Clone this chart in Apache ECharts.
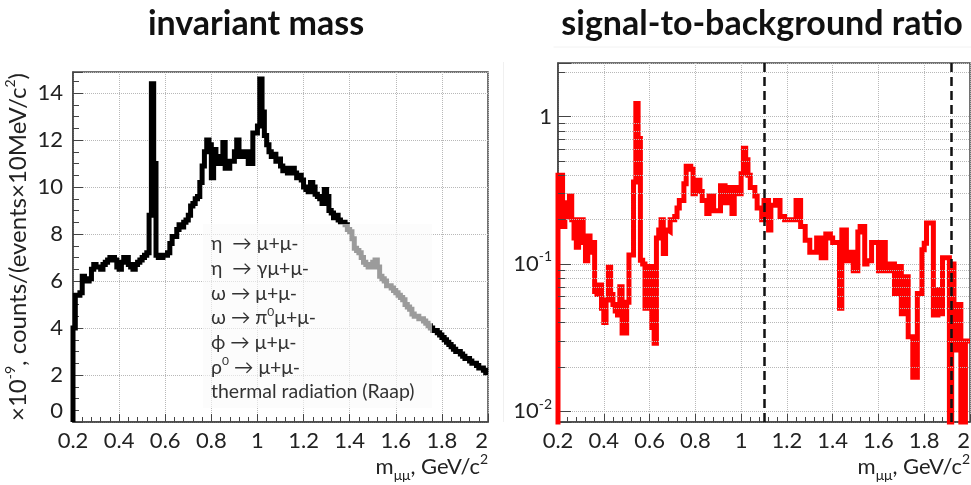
<!DOCTYPE html>
<html>
<head>
<meta charset="utf-8">
<script src="https://cdn.jsdelivr.net/npm/echarts@6/dist/echarts.min.js"></script>
<style>
  html, body { margin: 0; padding: 0; background: #fff; }
  #chart { width: 971px; height: 485px; }
</style>
</head>
<body>
<div id="chart"></div>
<script>
// Dimuon invariant-mass spectrum and signal-to-background ratio, 10 MeV bins from 0.2 GeV.
const binStart = 0.2;
const binWidth = 0.01;

// counts/(events x 10 MeV/c^2), in units of 1e-9, one value per bin
const massCounts = [
  4.0, 5.4, 5.4, 5.5, 6.2, 6.0, 6.0, 6.1, 6.5, 6.7,
  6.6, 6.6, 6.5, 6.7, 6.8, 6.9, 7.0, 7.0, 6.9, 6.6,
  6.5, 6.8, 7.0, 7.0, 6.7, 6.6, 6.5, 6.7, 6.8, 6.9,
  7.0, 7.1, 7.2, 8.8, 14.4, 11.0, 7.1, 7.0, 7.0, 7.1,
  7.1, 7.2, 7.6, 7.9, 7.9, 8.2, 8.4, 8.3, 8.5, 8.6,
  8.8, 9.2, 9.3, 9.5, 9.6, 10.2, 10.9, 11.5, 12.0, 11.8,
  10.4, 11.6, 11.0, 11.0, 11.3, 11.9, 10.8, 10.8, 11.1, 11.1,
  11.5, 12.0, 11.3, 11.3, 11.5, 11.5, 11.0, 11.0, 12.3, 12.3,
  12.6, 14.6, 13.2, 12.2, 11.8, 11.5, 11.3, 11.4, 11.1, 11.2,
  10.9, 10.7, 10.8, 10.6, 10.7, 10.8, 10.6, 10.4, 10.5, 10.3,
  10.0, 9.9, 9.8, 10.2, 10.0, 9.7, 9.6, 9.5, 9.3, 9.9,
  9.6, 9.0, 8.9, 8.7, 8.8, 8.6, 8.5, 8.5, 8.4, 8.2,
  8.1, 7.8, 7.4, 7.3, 7.2, 7.0, 6.8, 6.7, 6.6, 6.6,
  6.8, 6.9, 6.6, 6.2, 6.1, 6.0, 5.8, 5.8, 5.7, 5.6,
  5.5, 5.4, 5.3, 5.2, 5.0, 4.9, 4.8, 4.6, 4.5, 4.5,
  4.4, 4.4, 4.3, 4.2, 4.1, 4.0, 3.9, 3.9, 3.8, 3.7,
  3.6, 3.5, 3.4, 3.3, 3.2, 3.1, 3.0, 3.0, 2.9, 2.8,
  2.7, 2.7, 2.6, 2.5, 2.5, 2.4, 2.3, 2.3, 2.2, 2.1
];

// signal / background, one value per bin
const sbRatio = [
  0.40, 0.40, 0.18, 0.26, 0.21, 0.29, 0.20, 0.15, 0.13, 0.20,
  0.20, 0.14, 0.105, 0.155, 0.12, 0.14, 0.065, 0.062, 0.072, 0.05,
  0.04, 0.057, 0.095, 0.062, 0.053, 0.048, 0.045, 0.07, 0.034, 0.034,
  0.055, 0.115, 0.115, 0.36, 1.23, 0.71, 0.106, 0.10, 0.05, 0.078,
  0.096, 0.037, 0.029, 0.15, 0.17, 0.20, 0.118, 0.17, 0.166, 0.20,
  0.20, 0.21, 0.24, 0.27, 0.27, 0.35, 0.46, 0.46, 0.44, 0.30,
  0.37, 0.37, 0.31, 0.27, 0.27, 0.22, 0.29, 0.29, 0.23, 0.23,
  0.23, 0.34, 0.34, 0.26, 0.26, 0.33, 0.22, 0.33, 0.30, 0.30,
  0.41, 0.61, 0.51, 0.40, 0.33, 0.33, 0.29, 0.24, 0.24, 0.20,
  0.27, 0.27, 0.17, 0.25, 0.25, 0.27, 0.27, 0.21, 0.21, 0.20,
  0.20, 0.20, 0.20, 0.20, 0.27, 0.27, 0.18, 0.18, 0.145, 0.145,
  0.12, 0.12, 0.12, 0.15, 0.15, 0.11, 0.11, 0.16, 0.16, 0.15,
  0.14, 0.14, 0.14, 0.05, 0.17, 0.17, 0.105, 0.12, 0.12, 0.09,
  0.09, 0.165, 0.18, 0.18, 0.10, 0.105, 0.105, 0.14, 0.14, 0.14,
  0.09, 0.14, 0.14, 0.09, 0.09, 0.10, 0.10, 0.063, 0.063, 0.096,
  0.046, 0.046, 0.082, 0.032, 0.032, 0.017, 0.017, 0.063, 0.063, 0.125,
  0.138, 0.19, 0.19, 0.19, 0.045, 0.045, 0.067, 0.046, 0.11, 0.11,
  0.11, 0.005, 0.10, 0.026, 0.053, 0.053, 0.005, 0.005, 0.03, 0.03
];

// mass-window cuts shown on the ratio panel (GeV/c^2)
const cutMasses = [1.1, 1.915];

// log-scale minor grid values between the decades
const logMinorValues = [
  0.02, 0.03, 0.04, 0.05, 0.06, 0.07, 0.08, 0.09,
  0.2, 0.3, 0.4, 0.5, 0.6, 0.7, 0.8, 0.9, 2
];

// contributions listed in the legend box
const channelLabels = [
  'η  → μ+μ-',
  'η  → γμ+μ-',
  'ω → μ+μ-',
  'ω → π{sup|0}μ+μ-',
  'ϕ → μ+μ-',
  'ρ{sup|0} → μ+μ-',
  'thermal radiation (Raap)'
];

const FONT = 'Lato, "Open Sans", "DejaVu Sans", sans-serif';
const AXIS = '#444';
const GRID = '#b8b8b8';

function histPoints(values, floor) {
  const pts = [[binStart, floor]];
  values.forEach((v, i) => pts.push([+(binStart + i * binWidth).toFixed(3), v]));
  pts.push([+(binStart + values.length * binWidth).toFixed(3), values[values.length - 1]]);
  return pts;
}

const supRich = {
  sup: { fontSize: 14, verticalAlign: 'top', fontFamily: FONT, color: '#222', lineHeight: 14 },
  sub: { fontSize: 14, verticalAlign: 'bottom', fontFamily: FONT, color: '#222', lineHeight: 14 }
};

function massAxis(gridIndex) {
  return {
    gridIndex: gridIndex,
    type: 'value',
    min: 0.2,
    max: 2.0,
    interval: 0.2,
    axisLine: { show: true, onZero: false, lineStyle: { color: AXIS, width: 1.5 } },
    axisTick: { show: true, inside: true, length: 8, lineStyle: { color: AXIS, width: 1 } },
    minorTick: { show: true, splitNumber: 5, length: 5, lineStyle: { color: AXIS, width: 1 } },
    splitLine: { show: true, lineStyle: { color: GRID, type: 'dotted', width: 1 } },
    axisLabel: {
      fontFamily: FONT, fontSize: 22, color: '#222', margin: 8,
      alignMaxLabel: 'right'
    }
  };
}

// x-axis title drawn right-aligned under each panel
function massTitle(rightX) {
  return {
    type: 'text', z: 10,
    style: {
      text: 'm{sub|μμ}, GeV/c{sup|2}', x: rightX, y: 467,
      align: 'right', verticalAlign: 'middle',
      fontFamily: FONT, fontSize: 22, fill: '#222', lineHeight: 30,
      rich: {
        sup: { fontSize: 14, verticalAlign: 'top', fontFamily: FONT, fill: '#222', lineHeight: 14 },
        sub: { fontSize: 14, verticalAlign: 'bottom', fontFamily: FONT, fill: '#222', lineHeight: 14 }
      }
    }
  };
}

const option = {
  animation: false,
  backgroundColor: '#fff',
  title: [
    {
      text: 'invariant mass', left: 251, top: 2, textAlign: 'center',
      textStyle: { fontFamily: FONT, fontWeight: 'bold', fontSize: 34, color: '#111' }
    },
    {
      text: 'signal-to-background ratio', left: 757, top: 2, textAlign: 'center',
      textStyle: { fontFamily: FONT, fontWeight: 'bold', fontSize: 34, color: '#111' }
    }
  ],
  grid: [
    { left: 73, top: 72, width: 415, height: 350, show: true, borderColor: AXIS, borderWidth: 1.5, outerBoundsMode: 'none' },
    { left: 558, top: 63, width: 412, height: 359, show: true, borderColor: AXIS, borderWidth: 1.5, outerBoundsMode: 'none' }
  ],
  xAxis: [massAxis(0), massAxis(1)],
  yAxis: [
    {
      gridIndex: 0,
      type: 'value',
      min: 0,
      max: 14.9,
      interval: 2,
      axisLine: { show: true, lineStyle: { color: AXIS, width: 1.5 } },
      axisTick: { show: true, inside: true, length: 10, lineStyle: { color: AXIS } },
      minorTick: { show: true, splitNumber: 4, length: 6, lineStyle: { color: AXIS } },
      splitLine: { show: true, lineStyle: { color: GRID, type: 'dotted', width: 1 } },
      axisLabel: {
        fontFamily: FONT, fontSize: 22, color: '#222', margin: 10,
        verticalAlignMinLabel: 'bottom',
        formatter: v => (Math.abs(v / 2 - Math.round(v / 2)) < 1e-6 ? String(Math.round(v)) : '')
      },
      name: '×10{sup|-9}, counts/(events×10MeV/c{sup|2})',
      nameLocation: 'middle',
      nameRotate: 90,
      nameGap: 24,
      nameTextStyle: {
        fontFamily: FONT, fontSize: 24, color: '#222', lineHeight: 30,
        rich: supRich
      }
    },
    {
      gridIndex: 1,
      type: 'log',
      logBase: 10,
      min: 0.00845,
      max: 2.316,
      axisLine: { show: true, lineStyle: { color: AXIS, width: 1.5 } },
      axisTick: { show: true, inside: true, length: 13, lineStyle: { color: AXIS } },
      minorTick: { show: false },
      splitLine: { show: true, lineStyle: { color: GRID, type: 'dotted', width: 1 } },
      axisLabel: {
        fontFamily: FONT, fontSize: 22, color: '#222', margin: 6, lineHeight: 28,
        rich: supRich,
        formatter: v => {
          const e = Math.log10(v);
          if (Math.abs(e - Math.round(e)) > 1e-6) return '';
          const n = Math.round(e);
          return n === 0 ? '1' : '10{sup|' + n + '}';
        }
      }
    }
  ],
  graphic: [
    // faint panel edges
    { type: 'line', shape: { x1: 553.5, y1: 47, x2: 971, y2: 47 }, style: { stroke: '#f2f2f2', lineWidth: 1 }, z: 0 },
    { type: 'line', shape: { x1: 503.5, y1: 62, x2: 503.5, y2: 422 }, style: { stroke: '#f0f0f0', lineWidth: 1 }, z: 0 },
    massTitle(488),
    massTitle(970),
    // legend box laid over the spectrum
    {
      type: 'rect', z: 100,
      shape: { x: 203, y: 224, width: 229, height: 184 },
      style: { fill: 'rgba(250,250,250,0.62)' }
    }
  ].concat(channelLabels.map((t, i) => ({
    type: 'text', z: 101,
    style: {
      text: t, x: 211, y: 244 + i * 24.7,
      fontFamily: FONT, fontSize: 19.5, fill: '#333',
      verticalAlign: 'middle', lineHeight: 24,
      rich: {
        sup: { fontSize: 12, verticalAlign: 'top', fontFamily: FONT, fill: '#333', lineHeight: 12 }
      }
    }
  }))),
  series: [
    {
      name: 'invariant mass',
      type: 'line',
      xAxisIndex: 0, yAxisIndex: 0,
      step: 'end',
      showSymbol: false,
      silent: true,
      z: 3,
      lineStyle: { color: '#000', width: 5, join: 'miter' },
      data: histPoints(massCounts, 0)
    },
    {
      name: 'log grid',
      type: 'line',
      xAxisIndex: 1, yAxisIndex: 1,
      showSymbol: false,
      silent: true,
      z: 1,
      lineStyle: { width: 0 },
      data: [[0.2, 1]],
      markLine: {
        silent: true,
        symbol: 'none',
        label: { show: false },
        lineStyle: { color: GRID, type: 'dotted', width: 1 },
        data: logMinorValues.map(v => ({ yAxis: v })).concat(
          logMinorValues.map(v => [
            { coord: [0.2, v], lineStyle: { color: AXIS, type: 'solid', width: 1 } },
            { coord: [0.232, v] }
          ])
        )
      }
    },
    {
      name: 'signal-to-background ratio',
      type: 'line',
      xAxisIndex: 1, yAxisIndex: 1,
      step: 'end',
      showSymbol: false,
      silent: true,
      z: 3,
      lineStyle: { color: '#ff0000', width: 5, join: 'miter' },
      data: histPoints(sbRatio, 0.001)
    },
    {
      name: 'cuts',
      type: 'line',
      xAxisIndex: 1, yAxisIndex: 1,
      showSymbol: false,
      silent: true,
      z: 4,
      lineStyle: { width: 0 },
      data: [[0.2, 1]],
      markLine: {
        silent: true,
        symbol: 'none',
        label: { show: false },
        lineStyle: { color: '#111', type: [9, 5], width: 2.5 },
        data: cutMasses.map(m => ({ xAxis: m }))
      }
    }
  ]
};

const chart = echarts.init(document.getElementById('chart'), null, { renderer: 'canvas' });
chart.setOption(option);
</script>
</body>
</html>
